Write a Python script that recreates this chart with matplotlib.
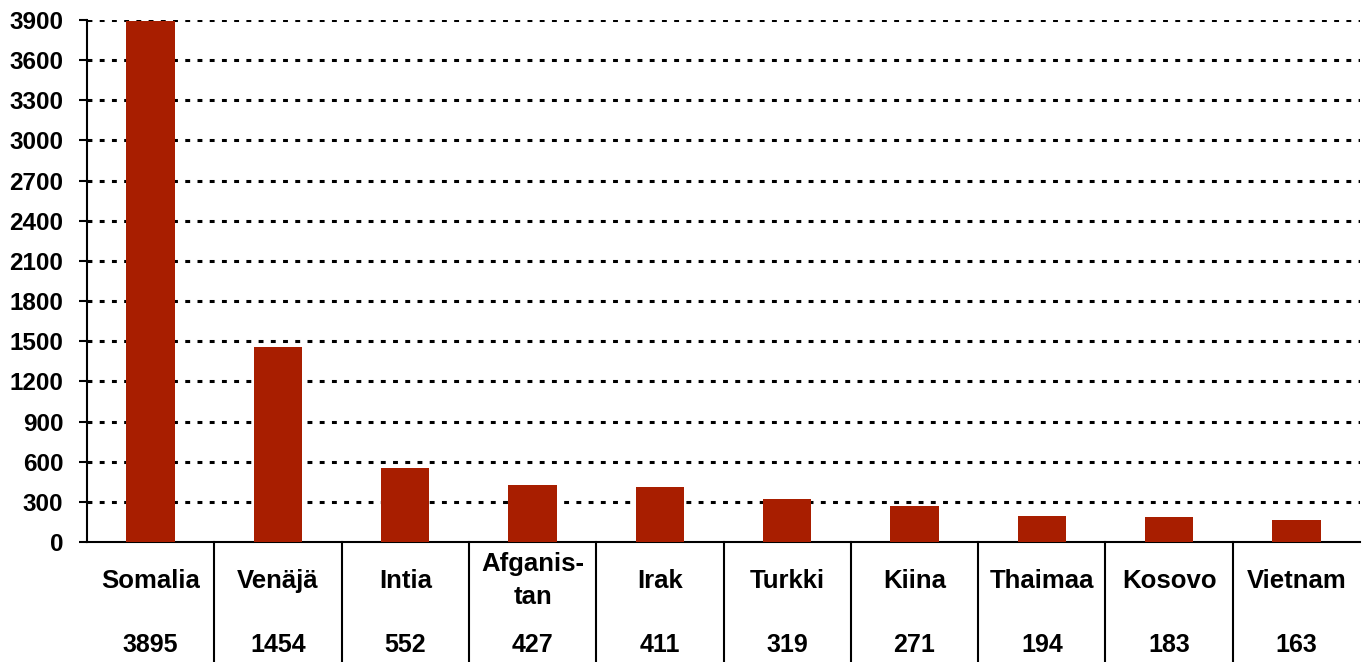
import matplotlib
matplotlib.use("Agg")
import matplotlib.pyplot as plt
import matplotlib.transforms as mtransforms

countries = ["Somalia", "Venäjä", "Intia", "Afganis-\ntan", "Irak",
             "Turkki", "Kiina", "Thaimaa", "Kosovo", "Vietnam"]
counts = [3895, 1454, 552, 427, 411, 319, 271, 194, 183, 163]
yticks = list(range(0, 3901, 300))

plt.rcParams["font.family"] = ["Liberation Sans", "DejaVu Sans"]
plt.rcParams["font.weight"] = "bold"

fig = plt.figure(figsize=(13.68, 6.62), dpi=100)
ax = fig.add_axes([0.0636, 0.1813, 0.9306, 0.7885])

x = list(range(len(countries)))
ax.bar(x, counts, width=0.38, color="#A81E00", zorder=3)

ax.set_xlim(-0.5, len(countries) - 0.5)
ax.set_ylim(0, 3900)
ax.set_yticks(yticks)
ax.set_yticklabels([str(t) for t in yticks], fontsize=17.5, fontweight="bold")
ax.tick_params(axis="y", length=6, width=1.5, pad=11)
ax.set_xticks([])

for t in yticks[1:]:
    ax.axhline(t, color="black", linestyle=(0, (1.6, 2.4)), linewidth=2.2, zorder=1)

for side in ["top", "right"]:
    ax.spines[side].set_visible(False)
ax.spines["left"].set_linewidth(1.5)
ax.spines["bottom"].set_linewidth(1.5)

trans = mtransforms.blended_transform_factory(ax.transData, ax.transAxes)
for i in range(1, len(countries)):
    ax.plot([i - 0.5, i - 0.5], [0, -0.25], color="black", linewidth=1.5,
            transform=trans, clip_on=False)

for i, (name, val) in enumerate(zip(countries, counts)):
    ax.text(i, -0.074, name, transform=trans, ha="center", va="center",
            fontsize=18.5, fontweight="bold", linespacing=1.5)
    ax.text(i, -0.198, str(val), transform=trans, ha="center", va="center",
            fontsize=18, fontweight="bold")

fig.savefig("out.png", dpi=100)
